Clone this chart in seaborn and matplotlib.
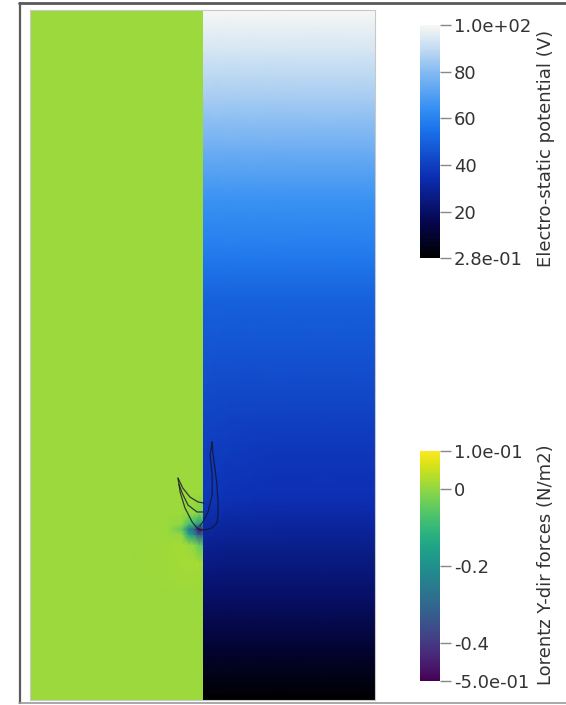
import numpy as np
import pandas as pd
import matplotlib
matplotlib.use("Agg")
import matplotlib.pyplot as plt
import seaborn as sns
from matplotlib.colors import LinearSegmentedColormap, Normalize
from matplotlib.cm import ScalarMappable
from matplotlib.lines import Line2D

sns.set_theme(style="white")
plt.rcParams['font.family'] = ['DejaVu Sans']

# ---------------- data ----------------
# Electro-static potential (V), right half of the domain
pot_x = [0.50, 0.58, 0.70, 1.00]
pot_y = [0.00, 0.145, 0.29, 0.435, 0.58, 0.725, 0.87, 1.16, 1.30, 1.45, 1.59, 1.74, 1.88, 2.00]
pot_vals = [
    [0.3, 0.3, 0.3, 0.3],
    [10, 10, 10, 10],
    [20, 20, 20, 20],
    [28, 27, 27, 27],
    [38, 36, 35, 35],
    [40, 39, 38, 38],
    [43, 42, 42, 42],
    [50, 50, 50, 50],
    [58, 58, 58, 58],
    [65, 65, 65, 65],
    [75, 75, 75, 75],
    [85, 85, 85, 85],
    [93, 93, 93, 93],
    [100, 100, 100, 100],
]
pot_min, pot_max = 0.28, 100.0
pot_ticks = [100, 80, 60, 40, 20, 0.28]
pot_ticklabels = ["1.0e+02", "80", "60", "40", "20", "2.8e-01"]

# Lorentz Y-dir forces (N/m2), left half of the domain
lor_x = [0.00, 0.30, 0.40, 0.44, 0.46, 0.475, 0.49, 0.50]
lor_y = [0.00, 0.30, 0.40, 0.45, 0.48, 0.495, 0.51, 0.54, 0.60, 1.00, 2.00]
lor_vals = [
    [0.01, 0.01, 0.01, 0.01, 0.01, 0.01, 0.01, 0.01],
    [0.01, 0.01, 0.01, 0.01, 0.01, 0.01, 0.01, 0.01],
    [0.01, 0.01, 0.015, 0.02, 0.02, 0.02, 0.02, 0.015],
    [0.01, 0.01, 0.015, 0.02, 0.01, 0.00, -0.05, -0.05],
    [0.01, 0.01, 0.01, 0.00, -0.15, -0.20, -0.35, -0.30],
    [0.01, 0.01, 0.01, -0.05, -0.25, -0.30, -0.48, -0.40],
    [0.01, 0.01, 0.01, 0.00, -0.08, -0.10, -0.20, -0.15],
    [0.01, 0.01, 0.01, 0.01, 0.00, 0.00, -0.02, -0.02],
    [0.01, 0.01, 0.01, 0.01, 0.01, 0.01, 0.01, 0.01],
    [0.01, 0.01, 0.01, 0.01, 0.01, 0.01, 0.01, 0.01],
    [0.01, 0.01, 0.01, 0.01, 0.01, 0.01, 0.01, 0.01],
]
lor_min, lor_max = -0.5, 0.1
lor_ticks = [0.1, 0.0, -0.2, -0.4, -0.5]
lor_ticklabels = ["1.0e-01", "0", "-0.2", "-0.4", "-5.0e-01"]

# Droplet interface contour lines
drop_outer_x = [0.429, 0.435, 0.449, 0.470, 0.484, 0.493, 0.507, 0.528, 0.542, 0.545, 0.545, 0.542, 0.536, 0.530, 0.528]
drop_outer_y = [0.643, 0.603, 0.557, 0.516, 0.499, 0.493, 0.493, 0.499, 0.513, 0.536, 0.574, 0.623, 0.672, 0.716, 0.748]
drop_rin_x = [0.528, 0.522, 0.528, 0.528, 0.516, 0.501, 0.493]
drop_rin_y = [0.748, 0.710, 0.652, 0.594, 0.545, 0.516, 0.505]
drop_lin1_x = [0.429, 0.443, 0.464, 0.487, 0.504]
drop_lin1_y = [0.643, 0.614, 0.588, 0.574, 0.571]
drop_lin2_x = [0.432, 0.441, 0.458, 0.484, 0.501]
drop_lin2_y = [0.625, 0.600, 0.565, 0.545, 0.545]

pot_title = "Electro-static potential (V)"
lor_title = "Lorentz Y-dir forces (N/m2)"

# ---------------- colormaps ----------------
pot_cmap = LinearSegmentedColormap.from_list("potential", [
    (0.00, (0.00, 0.00, 0.00)),
    (0.15, (0.02, 0.02, 0.30)),
    (0.35, (0.05, 0.18, 0.70)),
    (0.55, (0.10, 0.45, 0.92)),
    (0.65, (0.22, 0.57, 0.95)),
    (0.80, (0.52, 0.73, 0.95)),
    (0.90, (0.76, 0.86, 0.95)),
    (1.00, (0.97, 0.97, 0.96)),
])
lor_cmap = plt.get_cmap("viridis")
pot_norm = Normalize(pot_min, pot_max)
lor_norm = Normalize(lor_min, lor_max)

# ---------------- figure ----------------
W, H = 566, 705
fig = plt.figure(figsize=(W / 100, H / 100), dpi=100)
fig.patch.set_facecolor("white")

def fx(px):
    return px / W

def fy(py):
    return 1 - py / H

ax = fig.add_axes([fx(30), fy(700), 345 / W, 690 / H])
PX, PY = np.meshgrid(pot_x, pot_y)
ax.pcolormesh(PX, PY, np.array(pot_vals), cmap=pot_cmap, norm=pot_norm, shading="gouraud")
LX, LY = np.meshgrid(lor_x, lor_y)
ax.pcolormesh(LX, LY, np.array(lor_vals), cmap=lor_cmap, norm=lor_norm, shading="gouraud")

curves = []
for name, xs, ys in [("outer", drop_outer_x, drop_outer_y),
                     ("rin", drop_rin_x, drop_rin_y),
                     ("lin1", drop_lin1_x, drop_lin1_y),
                     ("lin2", drop_lin2_x, drop_lin2_y)]:
    for i, (a, b) in enumerate(zip(xs, ys)):
        curves.append({"curve": name, "order": i, "x": a, "y": b})
df = pd.DataFrame(curves)
sns.lineplot(data=df, x="x", y="y", units="curve", estimator=None, sort=False,
             color="#141428", lw=0.9, alpha=0.8, ax=ax, legend=False)

ax.set_xlim(0, 1)
ax.set_ylim(0, 2)
ax.set_xticks([])
ax.set_yticks([])
ax.set_xlabel("")
ax.set_ylabel("")
for s in ax.spines.values():
    s.set_color("#c8c8c8")
    s.set_linewidth(0.8)

def make_cbar(top, bottom, cmap, norm, ticks, labels):
    cax = fig.add_axes([fx(420), fy(bottom), 20 / W, (bottom - top) / H])
    cb = fig.colorbar(ScalarMappable(norm=norm, cmap=cmap), cax=cax, orientation="vertical")
    cb.outline.set_visible(False)
    cb.set_ticks(ticks)
    cb.set_ticklabels(labels)
    cax.tick_params(axis="y", right=True, left=False, length=8, width=1,
                    color="#888888", labelsize=13, labelcolor="#333333", pad=2)
    return cb

make_cbar(25, 258, pot_cmap, pot_norm, pot_ticks, pot_ticklabels)
make_cbar(451, 681, lor_cmap, lor_norm, lor_ticks, lor_ticklabels)

fig.text(fx(546), fy(148), pot_title, rotation=90, ha="center", va="center",
         fontsize=13, color="#333333")
fig.text(fx(546), fy(565), lor_title, rotation=90, ha="center", va="center",
         fontsize=13, color="#333333")

# outer frame of the screenshot
frame_col = "#5a5a5a"
fig.add_artist(Line2D([fx(19.5), fx(19.5)], [fy(3), fy(703)], color=frame_col, lw=1.6))
fig.add_artist(Line2D([fx(19), fx(566)], [fy(3), fy(3)], color=frame_col, lw=2.0))
fig.add_artist(Line2D([fx(19), fx(566)], [fy(703), fy(703)], color="#9a9a9a", lw=1.2))

fig.savefig("out.png", dpi=100, facecolor="white")
